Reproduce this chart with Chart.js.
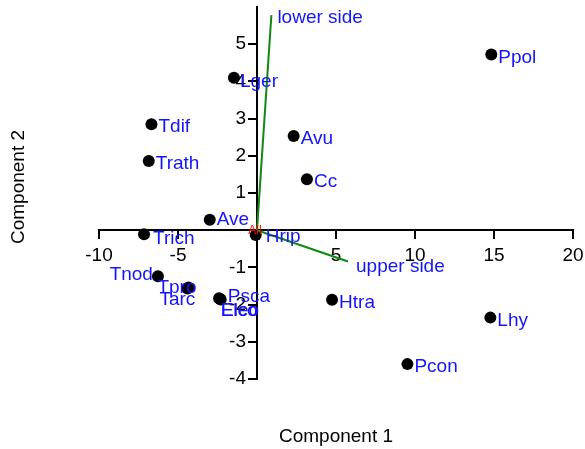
<!DOCTYPE html>
<html>
<head>
<meta charset="utf-8">
<script src="https://cdn.jsdelivr.net/npm/chart.js@4.4.1/dist/chart.umd.min.js"></script>
<style>
  html, body { margin: 0; padding: 0; background: #fff; }
  #wrap { width: 585px; height: 449px; }
</style>
</head>
<body>
<div id="wrap"><canvas id="myChart" width="585" height="449"></canvas></div>
<script>
// species scores
var names = ["Ppol", "Lger", "Tdif", "Trath", "Avu", "Cc", "Ave", "Hrip", "Trich", "Tnod", "Tpro", "Tarc", "Psca", "Elco", "Eleo", "Htra", "Lhy", "Pcon"];
var comp1 = [14.83, -1.46, -6.68, -6.85, 2.32, 3.16, -2.99, -0.08, -7.15, -6.27, -4.34, -4.40, -2.36, -2.30, -2.40, 4.75, 14.77, 9.52];
var comp2 = [4.72, 4.10, 2.85, 1.86, 2.53, 1.37, 0.28, -0.13, -0.11, -1.24, -1.54, -1.57, -1.84, -1.86, -1.83, -1.87, -2.35, -3.60];

// environmental vectors
var arrowNames = ["lower side", "upper side"];
var arrowX = [0.91, 5.76];
var arrowY = [5.78, -0.84];

var xTicks = [-10, -5, 5, 10, 15, 20];
var yTicks = [-4, -3, -2, -1, 1, 2, 3, 4, 5];

var FONT = '"Liberation Sans", Arial, sans-serif';

// where each label sits relative to its point (pixels)
var labelPlace = {
    Tnod: { align: 'right', dx: -5, dy: -2 },
    Tpro: { align: 'left', dx: -31, dy: 0 },
    Tarc: { align: 'left', dx: -28, dy: 11 },
    Psca: { align: 'left', dx: 8, dy: -2 },
    Elco: { align: 'left', dx: 0, dy: 11 },
    Eleo: { align: 'left', dx: 2, dy: 12 },
    Ave: { align: 'left', dx: 7, dy: 0 },
    Hrip: { align: 'left', dx: 10, dy: 2 },
    Trich: { align: 'left', dx: 9, dy: 4 },
    Lger: { align: 'left', dx: 6, dy: 4 }
};

var points = names.map(function (n, i) { return { x: comp1[i], y: comp2[i] }; });

var datasets = [];
arrowNames.forEach(function (n, i) {
    datasets.push({
        label: n,
        data: [{ x: 0, y: 0 }, { x: arrowX[i], y: arrowY[i] }],
        showLine: true,
        borderColor: '#118811',
        borderWidth: 2,
        pointRadius: 0
    });
});
datasets.push({
    label: 'species',
    data: points,
    backgroundColor: '#000',
    borderWidth: 0,
    pointRadius: 6
});

var textPlugin = {
    id: 'textPlugin',
    afterDatasetsDraw: function (chart) {
        var ctx = chart.ctx;
        var xs = chart.scales.x, ys = chart.scales.y;
        var area = chart.chartArea;
        var x0 = xs.getPixelForValue(0);
        ctx.save();

        // y tick labels, left of the tick marks
        ctx.fillStyle = '#000';
        ctx.font = '19px ' + FONT;
        ctx.textAlign = 'right';
        ctx.textBaseline = 'middle';
        ys.ticks.forEach(function (t) {
            ctx.fillText(String(t.value), x0 - 11, ys.getPixelForValue(t.value));
        });

        // red "All" at the origin
        ctx.fillStyle = '#ff0000';
        ctx.font = '12px ' + FONT;
        ctx.textAlign = 'center';
        ctx.fillText('All', x0 - 2, ys.getPixelForValue(0));

        // species labels
        ctx.fillStyle = '#1414ff';
        ctx.font = '19px ' + FONT;
        names.forEach(function (n, i) {
            var p = labelPlace[n] || { align: 'left', dx: 7, dy: 3 };
            ctx.textAlign = p.align;
            ctx.fillText(n, xs.getPixelForValue(comp1[i]) + p.dx, ys.getPixelForValue(comp2[i]) + p.dy);
        });

        // vector labels
        ctx.textAlign = 'left';
        arrowNames.forEach(function (n, i) {
            var dx = i === 0 ? 6 : 8, dy = i === 0 ? 3 : 5;
            ctx.fillText(n, xs.getPixelForValue(arrowX[i]) + dx, ys.getPixelForValue(arrowY[i]) + dy);
        });

        // axis titles
        ctx.fillStyle = '#000';
        ctx.textAlign = 'center';
        ctx.fillText('Component 1', (area.left + area.right) / 2, 437);
        ctx.translate(19, 187);
        ctx.rotate(-Math.PI / 2);
        ctx.fillText('Component 2', 0, 0);
        ctx.restore();
    }
};

function keepTicks(list) {
    return function (scale) {
        scale.ticks = list.map(function (v) { return { value: v }; });
    };
}

function noSpace(scale) {
    if (scale.isHorizontal()) scale.height = 0; else scale.width = 0;
    scale.paddingTop = 0; scale.paddingBottom = 0;
    scale.paddingLeft = 0; scale.paddingRight = 0;
}

var ctx = document.getElementById('myChart').getContext('2d');
var chart = new Chart(ctx, {
    type: 'scatter',
    data: { datasets: datasets },
    options: {
        responsive: false,
        animation: false,
        devicePixelRatio: 1,
        layout: { padding: { left: 99, right: 12, top: 7, bottom: 70 } },
        plugins: { legend: { display: false }, tooltip: { enabled: false } },
        scales: {
            x: {
                type: 'linear',
                min: -10, max: 20,
                position: { y: 0 },
                afterBuildTicks: keepTicks(xTicks),
                afterFit: noSpace,
                border: { display: true, color: '#000', width: 2 },
                grid: { drawOnChartArea: false, drawTicks: true, tickLength: 8, color: '#000', lineWidth: 2 },
                ticks: { color: '#000', font: { family: FONT, size: 19 }, padding: 6, maxRotation: 0, autoSkip: false }
            },
            y: {
                type: 'linear',
                min: -4, max: 6,
                position: { x: 0 },
                afterBuildTicks: keepTicks(yTicks),
                afterFit: noSpace,
                border: { display: true, color: '#000', width: 2 },
                grid: { drawOnChartArea: false, drawTicks: true, tickLength: 8, color: '#000', lineWidth: 2 },
                ticks: { display: false, autoSkip: false }
            }
        }
    },
    plugins: [textPlugin]
});
</script>
</body>
</html>
